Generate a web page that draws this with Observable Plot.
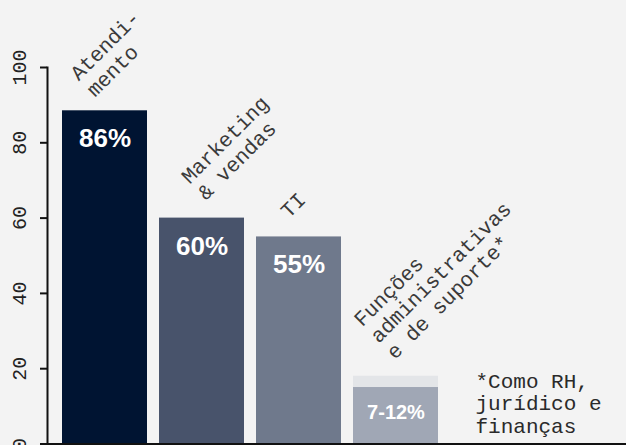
<!DOCTYPE html>
<html><head><meta charset="utf-8">
<script src="https://cdn.jsdelivr.net/npm/d3@7"></script>
<script src="https://cdn.jsdelivr.net/npm/@observablehq/plot@0.6"></script>
<style>
html,body{margin:0;padding:0;background:#f3f3f3;}
#chart svg{display:block;overflow:visible;}
</style></head><body><div id="chart"></div>
<script>
const categories = ["Atendimento", "Marketing & vendas", "TI", "Funções administrativas e de suporte*"];
const categoryLabels = ["Atendi-\nmento", "Marketing\n& vendas", "TI", "Funções\nadministrativas\ne de suporte*"];
const values = [88.5, 60, 55, 15];
const rangeHigh = [null, null, null, 18];
const valueLabels = ["86%", "60%", "55%", "7-12%"];
const yTicks = [0, 20, 40, 60, 80, 100];
const footnote = "*Como RH,\njurídico e\nfinanças";
const palette = ["#001432", "#48536b", "#6f798c", "#a0a7b5"];
const rangeColor = "#e3e5e8";

const data = categories.map((c, i) => ({
  cat: c, label: categoryLabels[i], value: values[i], high: rangeHigh[i],
  text: valueLabels[i], top: Math.max(values[i], rangeHigh[i] ?? 0)
}));
const big = data.filter(d => d.high == null);
const ranged = data.filter(d => d.high != null);

// label placement tweaks (mark options, per category)
const labelOffsets = [[-10, -13], [4, -17], [-10, -18], [-1, -16]];
const labelMarks = data.map((d, i) => Plot.text([d], {
  x: "cat", y: "top", text: "label", textAnchor: "start", lineAnchor: "bottom",
  rotate: -45, dx: labelOffsets[i][0], dy: labelOffsets[i][1],
  fontFamily: "Liberation Mono", fontSize: 21, lineHeight: 1.1, fill: "#3a3a3a"
}));

const chart = Plot.plot({
  width: 626, height: 445,
  marginLeft: 47, marginRight: 0, marginTop: 67, marginBottom: 1.5,
  style: {background: "#f3f3f3", fontFamily: "Liberation Mono"},
  x: {domain: categories, range: [47, 453], paddingInner: 0.1224, paddingOuter: 0.1327, axis: null},
  y: {domain: [0, 100]},
  color: {domain: categories, range: palette},
  marks: [
    Plot.barY(ranged, {x: "cat", y1: 0, y2: "high", fill: rangeColor}),
    Plot.barY(data, {x: "cat", y: "value", fill: "cat"}),
    Plot.text(big, {x: "cat", y: "value", text: "text", lineAnchor: "top", dy: 18, fill: "white",
      fontSize: 26, fontWeight: "bold", fontFamily: "Liberation Sans", letterSpacing: -0.5}),
    Plot.text(ranged, {x: "cat", y: "value", text: "text", lineAnchor: "top", dy: 17, fill: "white",
      fontSize: 20, fontWeight: "bold", fontFamily: "Liberation Sans", letterSpacing: -0.8}),
    ...labelMarks,
    Plot.text([footnote], {frameAnchor: "bottom-right", text: d => d, textAnchor: "start", lineAnchor: "bottom",
      dx: -151, dy: -11.5, fontFamily: "Liberation Mono", fontSize: 21, lineHeight: 1.07, fill: "#2a2a2a"}),
    Plot.ruleY([0], {insetLeft: -7, strokeWidth: 2, stroke: "#111"}),
    Plot.frame({anchor: "left", strokeWidth: 2, stroke: "#111"}),
    Plot.axisY(yTicks, {tickRotate: -90, tickSize: 7, tickPadding: 15, strokeWidth: 2, stroke: "#111",
      fontSize: 20, fontFamily: "Liberation Mono", fill: "#222", label: null})
  ]
});
document.getElementById("chart").append(chart);
</script></body></html>
